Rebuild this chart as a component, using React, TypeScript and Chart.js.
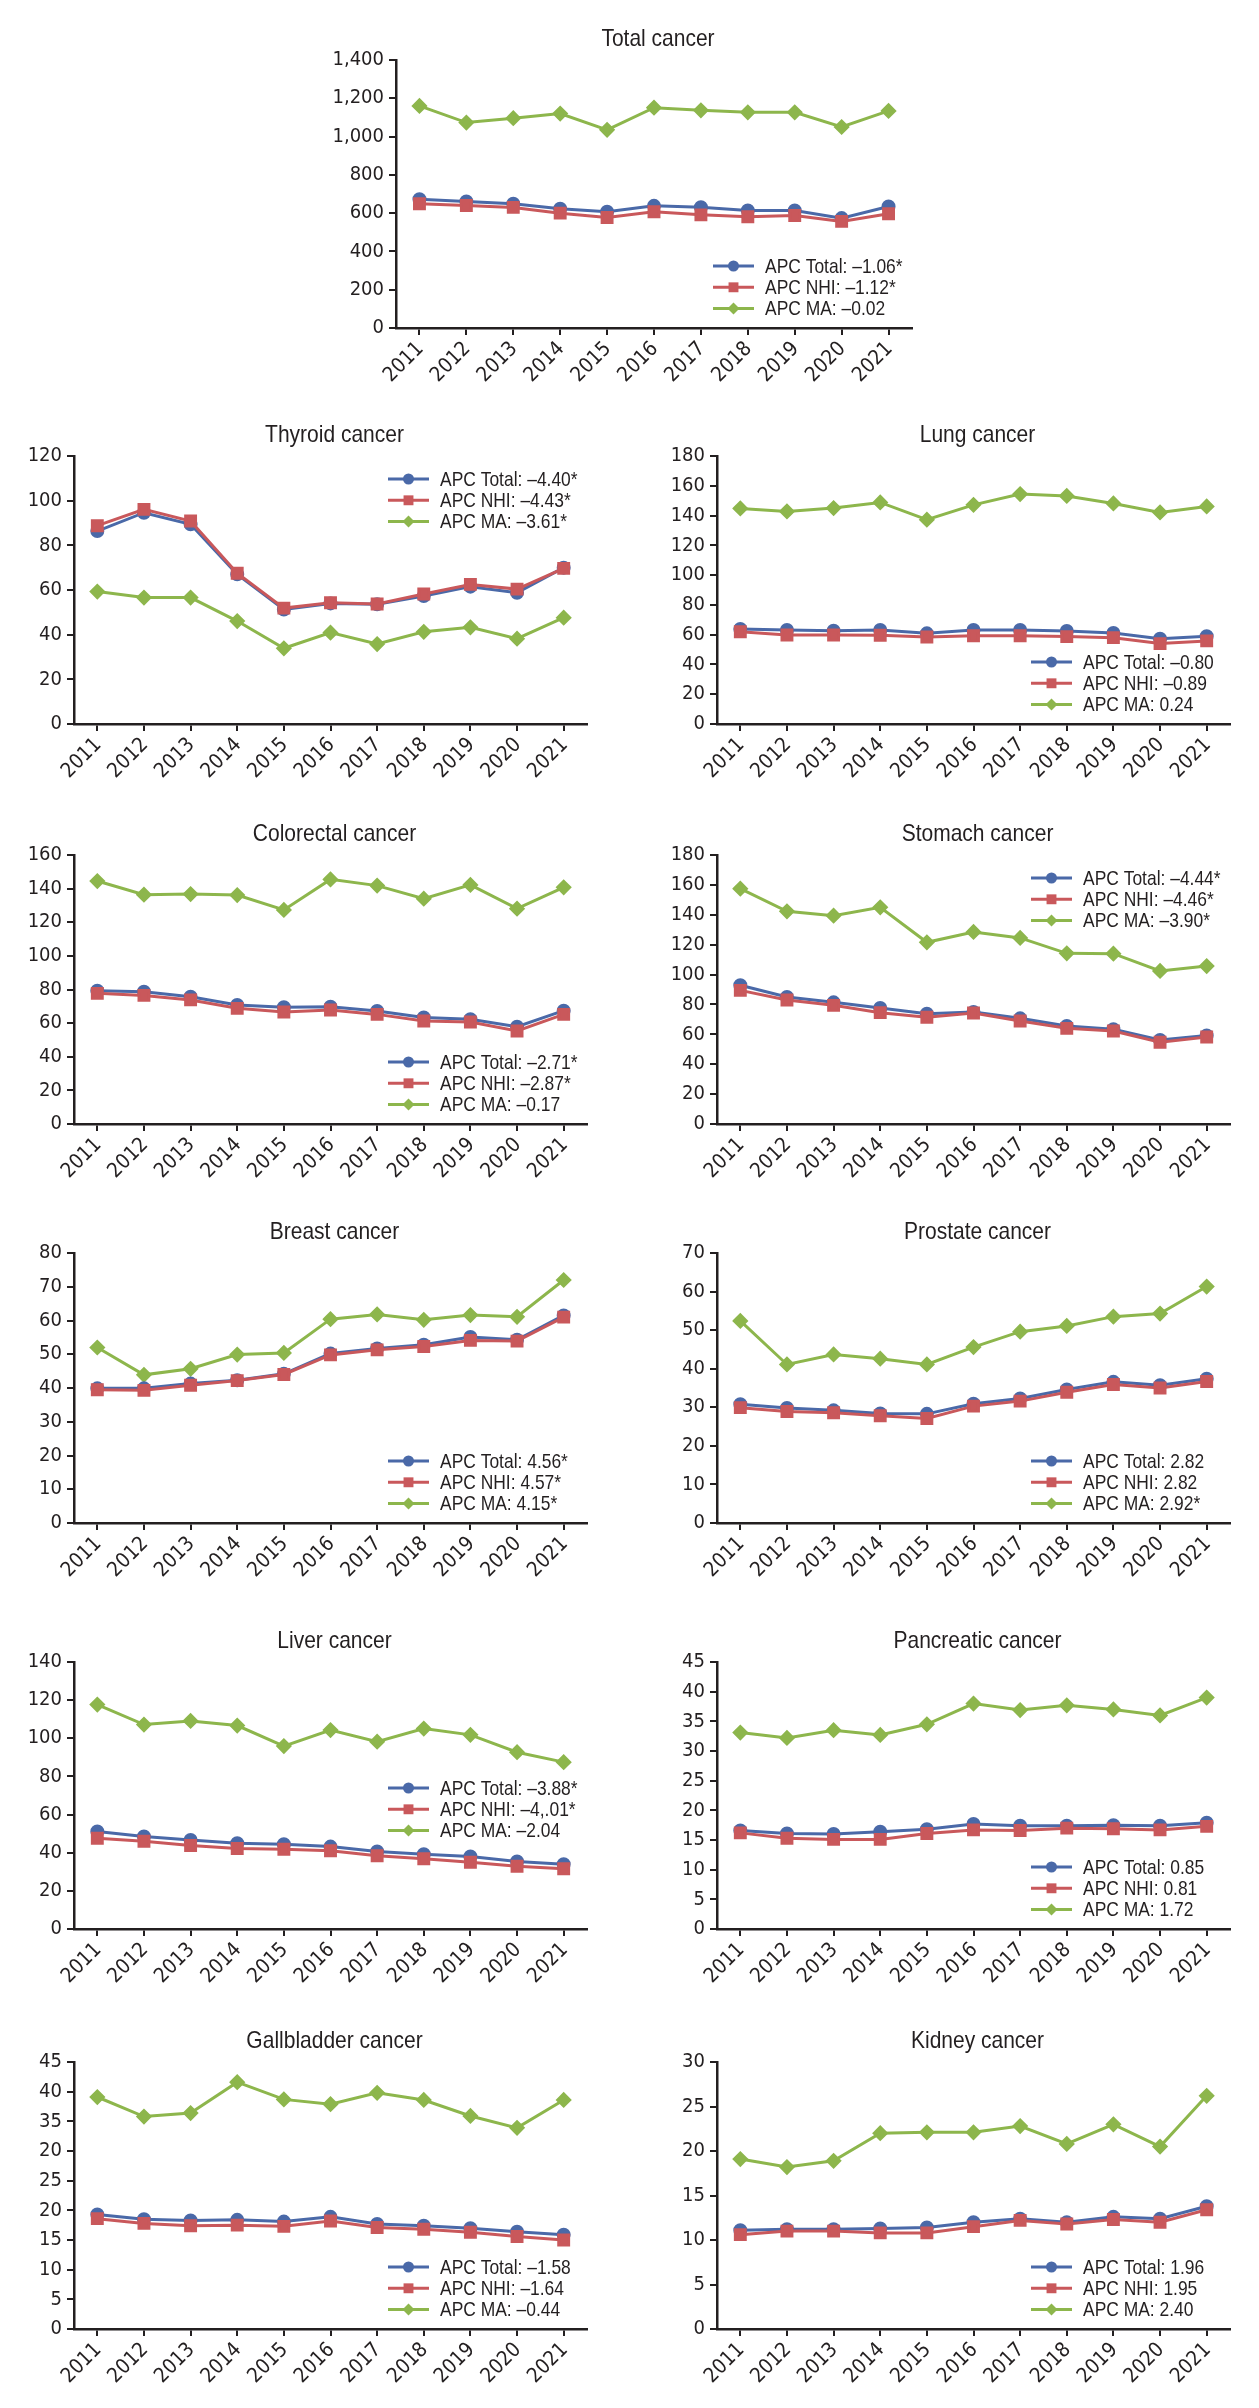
import React, { useEffect, useRef } from 'react';
import { Chart, registerables } from 'chart.js';

Chart.register(...registerables);

// ---------------- data ----------------
const years = ['2011', '2012', '2013', '2014', '2015', '2016', '2017', '2018', '2019', '2020', '2021'];

const totalTitle = 'Total cancer';
const totalTotal = [673, 661, 649, 623, 607, 638, 631, 614, 614, 574, 635];
const totalNHI = [649, 640, 630, 600, 577, 607, 591, 581, 588, 557, 597];
const totalMA = [1160, 1073, 1096, 1120, 1035, 1151, 1137, 1127, 1127, 1050, 1134];
const totalLegend = ['APC Total: –1.06*', 'APC NHI: –1.12*', 'APC MA: –0.02'];
const totalTicks = ['0', '200', '400', '600', '800', '1,000', '1,200', '1,400'];

const thyroidTitle = 'Thyroid cancer';
const thyroidTotal = [86.4, 94.6, 89.4, 67.0, 51.3, 54.0, 53.6, 57.3, 61.5, 58.8, 70.0];
const thyroidNHI = [88.8, 96.1, 90.9, 67.5, 51.9, 54.3, 53.7, 58.2, 62.5, 60.4, 69.7];
const thyroidMA = [59.3, 56.6, 56.6, 46.1, 33.9, 40.9, 35.8, 41.3, 43.3, 38.2, 47.6];
const thyroidLegend = ['APC Total: –4.40*', 'APC NHI: –4.43*', 'APC MA: –3.61*'];
const thyroidTicks = ['0', '20', '40', '60', '80', '100', '120'];

const lungTitle = 'Lung cancer';
const lungTotal = [63.8, 63.1, 62.7, 63.1, 60.9, 63.1, 63.1, 62.5, 61.1, 57.3, 58.9];
const lungNHI = [62.0, 59.8, 59.8, 59.6, 58.4, 59.3, 59.3, 58.7, 58.0, 54.0, 55.8];
const lungMA = [144.8, 142.8, 145.0, 148.8, 137.2, 147.2, 154.4, 153.2, 148.1, 142.1, 146.1];
const lungLegend = ['APC Total: –0.80', 'APC NHI: –0.89', 'APC MA: 0.24'];
const lungTicks = ['0', '20', '40', '60', '80', '100', '120', '140', '160', '180'];

const colorectalTitle = 'Colorectal cancer';
const colorectalTotal = [79.3, 78.7, 75.7, 70.8, 69.4, 69.8, 67.2, 63.4, 62.3, 57.9, 67.4];
const colorectalNHI = [77.7, 76.5, 73.8, 68.8, 66.6, 67.8, 65.2, 61.3, 60.7, 55.3, 65.2];
const colorectalMA = [144.5, 136.4, 136.8, 136.2, 127.3, 145.5, 141.8, 134.0, 142.2, 128.1, 140.8];
const colorectalLegend = ['APC Total: –2.71*', 'APC NHI: –2.87*', 'APC MA: –0.17'];
const colorectalTicks = ['0', '20', '40', '60', '80', '100', '120', '140', '160'];

const stomachTitle = 'Stomach cancer';
const stomachTotal = [92.8, 85.0, 81.4, 77.6, 73.8, 75.0, 70.7, 65.6, 63.4, 56.2, 59.3];
const stomachNHI = [89.4, 83.0, 79.4, 74.5, 71.4, 74.3, 68.9, 64.0, 62.2, 54.7, 58.2];
const stomachMA = [157.5, 142.3, 139.4, 145.0, 121.6, 128.5, 124.5, 114.2, 114.0, 102.4, 105.7];
const stomachLegend = ['APC Total: –4.44*', 'APC NHI: –4.46*', 'APC MA: –3.90*'];
const stomachTicks = ['0', '20', '40', '60', '80', '100', '120', '140', '160', '180'];

const breastTitle = 'Breast cancer';
const breastTotal = [39.9, 39.9, 41.3, 42.3, 44.2, 50.2, 51.7, 52.8, 55.1, 54.3, 61.5];
const breastNHI = [39.5, 39.3, 40.8, 42.2, 44.0, 49.8, 51.3, 52.3, 54.1, 53.9, 61.0];
const breastMA = [52.0, 43.9, 45.7, 49.9, 50.4, 60.4, 61.8, 60.2, 61.6, 61.1, 72.0];
const breastLegend = ['APC Total: 4.56*', 'APC NHI: 4.57*', 'APC MA: 4.15*'];
const breastTicks = ['0', '10', '20', '30', '40', '50', '60', '70', '80'];

const prostateTitle = 'Prostate cancer';
const prostateTotal = [30.8, 29.8, 29.2, 28.4, 28.3, 30.9, 32.3, 34.6, 36.6, 35.7, 37.4];
const prostateNHI = [29.9, 28.9, 28.6, 27.8, 27.1, 30.3, 31.6, 33.9, 35.9, 35.0, 36.7];
const prostateMA = [52.4, 41.1, 43.7, 42.6, 41.1, 45.6, 49.6, 51.1, 53.5, 54.3, 61.3];
const prostateLegend = ['APC Total: 2.82', 'APC NHI: 2.82', 'APC MA: 2.92*'];
const prostateTicks = ['0', '10', '20', '30', '40', '50', '60', '70'];

const liverTitle = 'Liver cancer';
const liverTotal = [51.1, 48.5, 46.7, 45.0, 44.5, 43.2, 40.6, 39.2, 38.0, 35.4, 34.0];
const liverNHI = [47.6, 46.0, 43.8, 42.2, 41.8, 41.0, 38.4, 36.8, 35.0, 32.9, 31.6];
const liverMA = [117.7, 107.2, 109.1, 106.7, 95.9, 104.3, 98.2, 105.1, 101.8, 92.7, 87.5];
const liverLegend = ['APC Total: –3.88*', 'APC NHI: –4,.01*', 'APC MA: –2.04'];
const liverTicks = ['0', '20', '40', '60', '80', '100', '120', '140'];

const pancreaticTitle = 'Pancreatic cancer';
const pancreaticTotal = [16.6, 16.1, 16.0, 16.4, 16.8, 17.7, 17.4, 17.4, 17.5, 17.4, 17.9];
const pancreaticNHI = [16.2, 15.3, 15.1, 15.1, 16.1, 16.7, 16.6, 17.0, 16.9, 16.7, 17.3];
const pancreaticMA = [33.1, 32.2, 33.5, 32.7, 34.5, 38.0, 36.9, 37.7, 37.0, 36.0, 39.0];
const pancreaticLegend = ['APC Total: 0.85', 'APC NHI: 0.81', 'APC MA: 1.72'];
const pancreaticTicks = ['0', '5', '10', '15', '20', '25', '30', '35', '40', '45'];

const gallbladderTitle = 'Gallbladder cancer';
const gallbladderTotal = [19.3, 18.5, 18.3, 18.4, 18.1, 18.9, 17.7, 17.4, 17.0, 16.4, 15.9];
const gallbladderNHI = [18.6, 17.8, 17.4, 17.5, 17.3, 18.2, 17.1, 16.8, 16.3, 15.6, 15.0];
const gallbladderMA = [39.1, 35.8, 36.4, 41.6, 38.7, 37.9, 39.8, 38.6, 35.9, 33.9, 38.6];
const gallbladderLegend = ['APC Total: –1.58', 'APC NHI: –1.64', 'APC MA: –0.44'];
const gallbladderTicks = ['0', '5', '10', '15', '20', '25', '20', '35', '40', '45'];

const kidneyTitle = 'Kidney cancer';
const kidneyTotal = [11.1, 11.2, 11.2, 11.3, 11.4, 12.0, 12.4, 12.0, 12.6, 12.4, 13.8];
const kidneyNHI = [10.6, 11.0, 11.0, 10.8, 10.8, 11.5, 12.2, 11.8, 12.3, 12.0, 13.4];
const kidneyMA = [19.1, 18.2, 18.9, 22.0, 22.1, 22.1, 22.8, 20.8, 23.0, 20.5, 26.2];
const kidneyLegend = ['APC Total: 1.96', 'APC NHI: 1.95', 'APC MA: 2.40'];
const kidneyTicks = ['0', '5', '10', '15', '20', '25', '30'];

// ---------------- styles / layout ----------------
const TICK_FONT = "'DejaVu Sans Condensed', 'Liberation Sans Narrow', sans-serif";
const TEXT_FONT = "'Liberation Sans', Arial, sans-serif";
const INK = '#231f20';
const BLUE = '#4a69a8';
const RED = '#c9585b';
const GREEN = '#8db64c';

const PAD_L = 72;
const PAD_T = 50;
const PAD_R = 22;
const PAD_B = 72;

type LegendPos = 'top' | 'bottom' | 'middle';

interface PanelSpec {
  title: string;
  total: number[];
  nhi: number[];
  ma: number[];
  legend: string[];
  ticks: string[];
  step: number;
  left: number;
  top: number;
  right: number;
  bottom: number;
  legendPos: LegendPos;
}

const COL_L = { left: 74, right: 587 };
const COL_R = { left: 717, right: 1230 };
const ROWS = [
  { top: 456, bottom: 724 },
  { top: 855, bottom: 1124 },
  { top: 1253, bottom: 1523 },
  { top: 1662, bottom: 1929 },
  { top: 2062, bottom: 2329 },
];

const panels: PanelSpec[] = [
  { title: totalTitle, total: totalTotal, nhi: totalNHI, ma: totalMA, legend: totalLegend, ticks: totalTicks, step: 200, left: 396, right: 912, top: 60, bottom: 328, legendPos: 'bottom' },
  { title: thyroidTitle, total: thyroidTotal, nhi: thyroidNHI, ma: thyroidMA, legend: thyroidLegend, ticks: thyroidTicks, step: 20, ...COL_L, ...ROWS[0], legendPos: 'top' },
  { title: lungTitle, total: lungTotal, nhi: lungNHI, ma: lungMA, legend: lungLegend, ticks: lungTicks, step: 20, ...COL_R, ...ROWS[0], legendPos: 'bottom' },
  { title: colorectalTitle, total: colorectalTotal, nhi: colorectalNHI, ma: colorectalMA, legend: colorectalLegend, ticks: colorectalTicks, step: 20, ...COL_L, ...ROWS[1], legendPos: 'bottom' },
  { title: stomachTitle, total: stomachTotal, nhi: stomachNHI, ma: stomachMA, legend: stomachLegend, ticks: stomachTicks, step: 20, ...COL_R, ...ROWS[1], legendPos: 'top' },
  { title: breastTitle, total: breastTotal, nhi: breastNHI, ma: breastMA, legend: breastLegend, ticks: breastTicks, step: 10, ...COL_L, ...ROWS[2], legendPos: 'bottom' },
  { title: prostateTitle, total: prostateTotal, nhi: prostateNHI, ma: prostateMA, legend: prostateLegend, ticks: prostateTicks, step: 10, ...COL_R, ...ROWS[2], legendPos: 'bottom' },
  { title: liverTitle, total: liverTotal, nhi: liverNHI, ma: liverMA, legend: liverLegend, ticks: liverTicks, step: 20, ...COL_L, ...ROWS[3], legendPos: 'middle' },
  { title: pancreaticTitle, total: pancreaticTotal, nhi: pancreaticNHI, ma: pancreaticMA, legend: pancreaticLegend, ticks: pancreaticTicks, step: 5, ...COL_R, ...ROWS[3], legendPos: 'bottom' },
  { title: gallbladderTitle, total: gallbladderTotal, nhi: gallbladderNHI, ma: gallbladderMA, legend: gallbladderLegend, ticks: gallbladderTicks, step: 5, ...COL_L, ...ROWS[4], legendPos: 'bottom' },
  { title: kidneyTitle, total: kidneyTotal, nhi: kidneyNHI, ma: kidneyMA, legend: kidneyLegend, ticks: kidneyTicks, step: 5, ...COL_R, ...ROWS[4], legendPos: 'bottom' },
];

function drawMarker(ctx: CanvasRenderingContext2D, style: string, x: number, y: number, r: number, color: string) {
  ctx.save();
  ctx.fillStyle = color;
  ctx.beginPath();
  if (style === 'circle') {
    ctx.arc(x, y, r, 0, Math.PI * 2);
  } else if (style === 'rect') {
    const h = r * Math.SQRT1_2;
    ctx.rect(x - h, y - h, 2 * h, 2 * h);
  } else {
    ctx.moveTo(x, y - r);
    ctx.lineTo(x + r, y);
    ctx.lineTo(x, y + r);
    ctx.lineTo(x - r, y);
    ctx.closePath();
  }
  ctx.fill();
  ctx.restore();
}

// condensed text: real text drawn with a horizontal squeeze
function narrowText(ctx: CanvasRenderingContext2D, text: string, x: number, y: number, squeeze: number) {
  ctx.save();
  ctx.translate(x, y);
  ctx.scale(squeeze, 1);
  ctx.fillText(text, 0, 0);
  ctx.restore();
}

const panelDecor = {
  id: 'panelDecor',
  afterDraw(chart: any, _args: any, opts: any) {
    const { ctx, chartArea } = chart;
    ctx.save();
    // title
    ctx.fillStyle = INK;
    ctx.font = `24px ${TEXT_FONT}`;
    ctx.textAlign = 'center';
    ctx.textBaseline = 'alphabetic';
    narrowText(ctx, opts.title, (chartArea.left + chartArea.right) / 2 + 4, chartArea.top - 14, 0.875);

    // legend
    const x0 = chartArea.right - 199;
    let y0: number;
    if (opts.legendPos === 'top') y0 = chartArea.top + 23;
    else if (opts.legendPos === 'middle') y0 = chartArea.top + 126;
    else y0 = chartArea.bottom - 62;
    const rowH = 21.3;
    chart.data.datasets.forEach((ds: any, i: number) => {
      const y = y0 + i * rowH;
      ctx.strokeStyle = ds.borderColor;
      ctx.lineWidth = 3;
      ctx.beginPath();
      ctx.moveTo(x0, y);
      ctx.lineTo(x0 + 41, y);
      ctx.stroke();
      drawMarker(ctx, ds.pointStyle, x0 + 20.5, y, ds.pointRadius, ds.borderColor);
      ctx.fillStyle = INK;
      ctx.font = `21px ${TEXT_FONT}`;
      ctx.textAlign = 'left';
      ctx.textBaseline = 'middle';
      narrowText(ctx, ds.label, x0 + 52, y + 1, 0.83);
    });
    ctx.restore();
  },
};

function Panel({ spec }: { spec: PanelSpec }) {
  const ref = useRef<HTMLCanvasElement>(null);
  const w = spec.right - spec.left + PAD_L + PAD_R;
  const h = spec.bottom - spec.top + PAD_T + PAD_B;

  useEffect(() => {
    if (!ref.current) return;
    const maxVal = spec.step * (spec.ticks.length - 1);
    const chart = new Chart(ref.current, {
      type: 'line',
      data: {
        labels: years,
        datasets: [
          { label: spec.legend[0], data: spec.total, borderColor: BLUE, backgroundColor: BLUE, pointBackgroundColor: BLUE, pointBorderColor: BLUE, pointStyle: 'circle', pointRadius: 5.5, borderWidth: 3, tension: 0, order: 2, clip: false } as any,
          { label: spec.legend[1], data: spec.nhi, borderColor: RED, backgroundColor: RED, pointBackgroundColor: RED, pointBorderColor: RED, pointStyle: 'rect', pointRadius: 7, borderWidth: 3, tension: 0, order: 1, clip: false } as any,
          { label: spec.legend[2], data: spec.ma, borderColor: GREEN, backgroundColor: GREEN, pointBackgroundColor: GREEN, pointBorderColor: GREEN, pointStyle: 'rectRot', pointRadius: 6, borderWidth: 3, tension: 0, order: 3, clip: false } as any,
        ],
      },
      options: {
        responsive: false,
        maintainAspectRatio: false,
        animation: false,
        events: [],
        layout: { padding: { left: 0, top: PAD_T, right: PAD_R, bottom: 0 } },
        plugins: {
          legend: { display: false },
          title: { display: false },
          tooltip: { enabled: false },
          panelDecor: { title: spec.title, legendPos: spec.legendPos },
        } as any,
        scales: {
          x: {
            offset: true,
            grid: { drawOnChartArea: false, drawTicks: true, tickLength: 7, color: INK, lineWidth: 2 },
            border: { display: true, color: INK, width: 2.5 },
            ticks: { color: INK, font: { family: TICK_FONT, size: 20.5 }, minRotation: 45, maxRotation: 45, autoSkip: false, padding: 2, labelOffset: 1 },
            afterFit: (s: any) => { s.height = PAD_B; },
          },
          y: {
            min: 0,
            max: maxVal,
            grid: { drawOnChartArea: false, drawTicks: true, tickLength: 7, color: INK, lineWidth: 2 },
            border: { display: true, color: INK, width: 2.5 },
            ticks: {
              stepSize: spec.step,
              color: INK,
              font: { family: TICK_FONT, size: 20 },
              padding: 5,
              callback: (_v: any, i: number) => spec.ticks[i],
            },
            afterFit: (s: any) => { s.width = PAD_L; },
          },
        },
      } as any,
      plugins: [panelDecor as any],
    });
    return () => chart.destroy();
  }, []);

  return (
    <canvas
      ref={ref}
      width={w}
      height={h}
      style={{ position: 'absolute', left: spec.left - PAD_L, top: spec.top - PAD_T, width: w, height: h }}
    />
  );
}

export default function App() {
  return (
    <div style={{ position: 'absolute', left: 0, top: 0, width: 1259, height: 2408, background: '#ffffff', overflow: 'hidden' }}>
      {panels.map((p) => (
        <Panel key={p.title} spec={p} />
      ))}
    </div>
  );
}
